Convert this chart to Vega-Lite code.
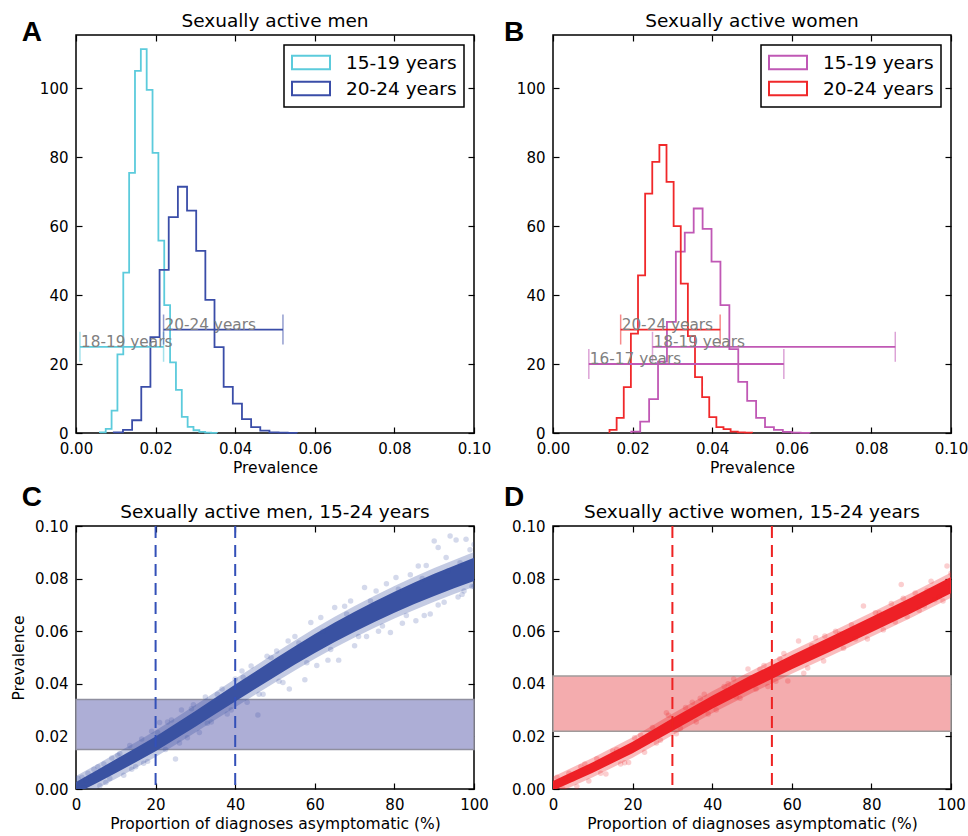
{
  "$schema": "https://vega.github.io/schema/vega-lite/v6.json",
  "background": "white",
  "padding": {"left": 10, "top": 11, "right": 5, "bottom": 0},
  "config": {
    "font": "DejaVu Sans",
    "view": {"stroke": "black", "strokeWidth": 1.5},
    "axis": {"grid": false, "domain": false, "labelFlush": false, "tickColor": "black", "tickSize": -6, "tickWidth": 1.2, "labelPadding": 14, "labelFont": "DejaVu Sans", "labelFontSize": 15, "labelColor": "black", "titleFont": "DejaVu Sans", "titleFontSize": 15.5, "titleFontWeight": "normal", "titleColor": "black", "titlePadding": 6},
    "axisX": {"labelPadding": 14, "titlePadding": 4},
    "title": {"font": "DejaVu Sans", "fontSize": 18.5, "fontWeight": "normal", "color": "black"},
    "legend": {"orient": "top-right", "offset": 10, "strokeColor": "black", "strokeWidth": 1.5, "fillColor": "white", "padding": 7, "rowPadding": 3, "labelFont": "DejaVu Sans", "labelFontSize": 18.5, "labelColor": "black", "labelOffset": 34, "symbolType": "M-1,-0.7H3V0.7H-1Z", "symbolSize": 361, "symbolStrokeWidth": 2, "symbolFillColor": "transparent", "title": null}
  },
  "columns": 2,
  "spacing": {"row": 6, "column": 11},
  "resolve": {"scale": {"color": "independent"}, "legend": {"color": "independent"}},
  "concat": [
    {
      "width": 398, "height": 398,
      "title": {"text": "Sexually active men", "offset": -12},
      "layer": [
        {
          "data": {"values": [
            {"s":"15-19 years","i":0,"x":0.006,"n":0},{"s":"15-19 years","i":1,"x":0.006,"n":0.2},{"s":"15-19 years","i":2,"x":0.00747,"n":1.2},{"s":"15-19 years","i":3,"x":0.00894,"n":6.5},{"s":"15-19 years","i":4,"x":0.01041,"n":22.8},{"s":"15-19 years","i":5,"x":0.01188,"n":46.5},{"s":"15-19 years","i":6,"x":0.01335,"n":75.4},{"s":"15-19 years","i":7,"x":0.01482,"n":105},{"s":"15-19 years","i":8,"x":0.01629,"n":111.3},{"s":"15-19 years","i":9,"x":0.01776,"n":99.5},{"s":"15-19 years","i":10,"x":0.01923,"n":81.2},{"s":"15-19 years","i":11,"x":0.0207,"n":55.8},{"s":"15-19 years","i":12,"x":0.02217,"n":37.1},{"s":"15-19 years","i":13,"x":0.02364,"n":20.5},{"s":"15-19 years","i":14,"x":0.02511,"n":12.5},{"s":"15-19 years","i":15,"x":0.02658,"n":4.7},{"s":"15-19 years","i":16,"x":0.02805,"n":1.8},{"s":"15-19 years","i":17,"x":0.02952,"n":0.8},{"s":"15-19 years","i":18,"x":0.03099,"n":0.3},{"s":"15-19 years","i":19,"x":0.03246,"n":0.1},{"s":"15-19 years","i":20,"x":0.03393,"n":0.05},{"s":"15-19 years","i":21,"x":0.0354,"n":0},
            {"s":"20-24 years","i":0,"x":0.0095,"n":0},{"s":"20-24 years","i":1,"x":0.0095,"n":0.2},{"s":"20-24 years","i":2,"x":0.0118,"n":0.9},{"s":"20-24 years","i":3,"x":0.0141,"n":3.7},{"s":"20-24 years","i":4,"x":0.0164,"n":13.4},{"s":"20-24 years","i":5,"x":0.0187,"n":27.8},{"s":"20-24 years","i":6,"x":0.021,"n":47.3},{"s":"20-24 years","i":7,"x":0.0233,"n":62.6},{"s":"20-24 years","i":8,"x":0.0256,"n":71.4},{"s":"20-24 years","i":9,"x":0.0279,"n":64.5},{"s":"20-24 years","i":10,"x":0.0302,"n":52.8},{"s":"20-24 years","i":11,"x":0.0325,"n":38.6},{"s":"20-24 years","i":12,"x":0.0348,"n":24.9},{"s":"20-24 years","i":13,"x":0.0371,"n":13.4},{"s":"20-24 years","i":14,"x":0.0394,"n":8.5},{"s":"20-24 years","i":15,"x":0.0417,"n":4.0},{"s":"20-24 years","i":16,"x":0.044,"n":1.7},{"s":"20-24 years","i":17,"x":0.0463,"n":0.7},{"s":"20-24 years","i":18,"x":0.0486,"n":0.2},{"s":"20-24 years","i":19,"x":0.0509,"n":0.1},{"s":"20-24 years","i":20,"x":0.0532,"n":0.05},{"s":"20-24 years","i":21,"x":0.0555,"n":0}
          ]},
          "mark": {"type": "line", "interpolate": "step-after", "strokeWidth": 1.8},
          "encoding": {
            "x": {"field": "x", "type": "quantitative", "scale": {"domain": [0, 0.1], "nice": false, "zero": false}, "axis": {"values": [0, 0.02, 0.04, 0.06, 0.08, 0.1], "format": ".2f", "title": "Prevalence"}},
            "y": {"field": "n", "type": "quantitative", "scale": {"domain": [0, 115.4], "nice": false}, "axis": {"values": [0, 20, 40, 60, 80, 100], "title": null}},
            "color": {"field": "s", "type": "nominal", "scale": {"domain": ["15-19 years", "20-24 years"], "range": ["#5ccbdc", "#3a4da8"]}},
            "order": {"field": "i", "type": "quantitative"}
          }
        },
        {
          "data": {"values": [{"label": "18-19 years", "lo": 0.001, "hi": 0.022, "y": 25}]},
          "mark": {"type": "errorbar", "color": "#5ccbdc", "ticks": {"size": 30, "thickness": 1.5, "opacity": 0.55}, "rule": {"strokeWidth": 1.8}},
          "encoding": {
            "x": {"field": "lo", "type": "quantitative", "axis": null},
            "x2": {"field": "hi"},
            "y": {"field": "y", "type": "quantitative", "axis": null}
          }
        },
        {
          "data": {"values": [{"label": "20-24 years", "lo": 0.022, "hi": 0.052, "y": 30}]},
          "mark": {"type": "errorbar", "color": "#3a4da8", "ticks": {"size": 30, "thickness": 1.5, "opacity": 0.55}, "rule": {"strokeWidth": 1.8}},
          "encoding": {
            "x": {"field": "lo", "type": "quantitative", "axis": null},
            "x2": {"field": "hi"},
            "y": {"field": "y", "type": "quantitative", "axis": null}
          }
        },
        {
          "data": {"values": [
            {"label": "18-19 years", "lo": 0.001, "y": 25},
            {"label": "20-24 years", "lo": 0.022, "y": 30}
          ]},
          "mark": {"type": "text", "align": "left", "baseline": "alphabetic", "dx": 1, "fontSize": 15.3, "color": "#808080"},
          "encoding": {
            "x": {"field": "lo", "type": "quantitative", "axis": {"orient": "top", "labels": false, "title": null, "values": [0, 0.02, 0.04, 0.06, 0.08, 0.1]}},
            "y": {"field": "y", "type": "quantitative", "axis": {"orient": "right", "labels": false, "title": null, "values": [0, 20, 40, 60, 80, 100]}},
            "text": {"field": "label"}
          }
        },
        {
          "data": {"values": [{"letter": "A", "lx": -0.0136, "ly": 113.7}]},
          "mark": {"type": "text", "font": "Liberation Sans", "fontWeight": "bold", "fontSize": 28, "align": "left", "baseline": "alphabetic", "color": "black"},
          "encoding": {
            "x": {"field": "lx", "type": "quantitative", "axis": null},
            "y": {"field": "ly", "type": "quantitative", "axis": null},
            "text": {"field": "letter"}
          }
        }
      ],
      "resolve": {"axis": {"x": "independent", "y": "independent"}}
    },
    {
      "width": 398, "height": 398,
      "title": {"text": "Sexually active women", "offset": -12},
      "layer": [
        {
          "data": {"values": [
            {"s":"15-19 years","i":0,"x":0.01967,"n":0},{"s":"15-19 years","i":1,"x":0.01967,"n":0.4},{"s":"15-19 years","i":2,"x":0.02191,"n":3.3},{"s":"15-19 years","i":3,"x":0.02415,"n":9.8},{"s":"15-19 years","i":4,"x":0.02639,"n":20.7},{"s":"15-19 years","i":5,"x":0.02863,"n":32.2},{"s":"15-19 years","i":6,"x":0.03087,"n":52.6},{"s":"15-19 years","i":7,"x":0.03311,"n":58.1},{"s":"15-19 years","i":8,"x":0.03535,"n":65.1},{"s":"15-19 years","i":9,"x":0.03759,"n":59.2},{"s":"15-19 years","i":10,"x":0.03983,"n":49.7},{"s":"15-19 years","i":11,"x":0.04207,"n":37.1},{"s":"15-19 years","i":12,"x":0.04431,"n":24.3},{"s":"15-19 years","i":13,"x":0.04655,"n":14.8},{"s":"15-19 years","i":14,"x":0.04879,"n":9.3},{"s":"15-19 years","i":15,"x":0.05103,"n":4.4},{"s":"15-19 years","i":16,"x":0.05327,"n":1.7},{"s":"15-19 years","i":17,"x":0.05551,"n":0.9},{"s":"15-19 years","i":18,"x":0.05775,"n":0.3},{"s":"15-19 years","i":19,"x":0.05999,"n":0.1},{"s":"15-19 years","i":20,"x":0.06223,"n":0.05},{"s":"15-19 years","i":21,"x":0.06447,"n":0},
            {"s":"20-24 years","i":0,"x":0.0142,"n":0},{"s":"20-24 years","i":1,"x":0.0142,"n":0.9},{"s":"20-24 years","i":2,"x":0.01599,"n":4.4},{"s":"20-24 years","i":3,"x":0.01778,"n":13.3},{"s":"20-24 years","i":4,"x":0.01957,"n":28.8},{"s":"20-24 years","i":5,"x":0.02136,"n":45.7},{"s":"20-24 years","i":6,"x":0.02315,"n":69.4},{"s":"20-24 years","i":7,"x":0.02494,"n":78.6},{"s":"20-24 years","i":8,"x":0.02673,"n":83.5},{"s":"20-24 years","i":9,"x":0.02852,"n":72.8},{"s":"20-24 years","i":10,"x":0.03031,"n":60.0},{"s":"20-24 years","i":11,"x":0.0321,"n":43.3},{"s":"20-24 years","i":12,"x":0.03389,"n":28.1},{"s":"20-24 years","i":13,"x":0.03568,"n":16.2},{"s":"20-24 years","i":14,"x":0.03747,"n":10.4},{"s":"20-24 years","i":15,"x":0.03926,"n":4.6},{"s":"20-24 years","i":16,"x":0.04105,"n":1.7},{"s":"20-24 years","i":17,"x":0.04284,"n":1.1},{"s":"20-24 years","i":18,"x":0.04463,"n":0.4},{"s":"20-24 years","i":19,"x":0.04642,"n":0.2},{"s":"20-24 years","i":20,"x":0.04821,"n":0.1},{"s":"20-24 years","i":21,"x":0.05,"n":0}
          ]},
          "mark": {"type": "line", "interpolate": "step-after", "strokeWidth": 1.8},
          "encoding": {
            "x": {"field": "x", "type": "quantitative", "scale": {"domain": [0, 0.1], "nice": false, "zero": false}, "axis": {"values": [0, 0.02, 0.04, 0.06, 0.08, 0.1], "format": ".2f", "title": "Prevalence"}},
            "y": {"field": "n", "type": "quantitative", "scale": {"domain": [0, 115.4], "nice": false}, "axis": {"values": [0, 20, 40, 60, 80, 100], "title": null}},
            "color": {"field": "s", "type": "nominal", "scale": {"domain": ["15-19 years", "20-24 years"], "range": ["#c058b5", "#f0282a"]}},
            "order": {"field": "i", "type": "quantitative"}
          }
        },
        {
          "data": {"values": [{"label": "20-24 years", "lo": 0.017, "hi": 0.042, "y": 30}]},
          "mark": {"type": "errorbar", "color": "#f0282a", "ticks": {"size": 30, "thickness": 1.5, "opacity": 0.55}, "rule": {"strokeWidth": 1.8}},
          "encoding": {
            "x": {"field": "lo", "type": "quantitative", "axis": null},
            "x2": {"field": "hi"},
            "y": {"field": "y", "type": "quantitative", "axis": null}
          }
        },
        {
          "data": {"values": [
            {"label": "18-19 years", "lo": 0.025, "hi": 0.086, "y": 25},
            {"label": "16-17 years", "lo": 0.009, "hi": 0.058, "y": 20}
          ]},
          "mark": {"type": "errorbar", "color": "#c058b5", "ticks": {"size": 30, "thickness": 1.5, "opacity": 0.55}, "rule": {"strokeWidth": 1.8}},
          "encoding": {
            "x": {"field": "lo", "type": "quantitative", "axis": null},
            "x2": {"field": "hi"},
            "y": {"field": "y", "type": "quantitative", "axis": null}
          }
        },
        {
          "data": {"values": [
            {"label": "20-24 years", "lo": 0.017, "y": 30},
            {"label": "18-19 years", "lo": 0.025, "y": 25},
            {"label": "16-17 years", "lo": 0.009, "y": 20}
          ]},
          "mark": {"type": "text", "align": "left", "baseline": "alphabetic", "dx": 1, "fontSize": 15.3, "color": "#808080"},
          "encoding": {
            "x": {"field": "lo", "type": "quantitative", "axis": {"orient": "top", "labels": false, "title": null, "values": [0, 0.02, 0.04, 0.06, 0.08, 0.1]}},
            "y": {"field": "y", "type": "quantitative", "axis": {"orient": "right", "labels": false, "title": null, "values": [0, 20, 40, 60, 80, 100]}},
            "text": {"field": "label"}
          }
        },
        {
          "data": {"values": [{"letter": "B", "lx": -0.0123, "ly": 113.7}]},
          "mark": {"type": "text", "font": "Liberation Sans", "fontWeight": "bold", "fontSize": 28, "align": "left", "baseline": "alphabetic", "color": "black"},
          "encoding": {
            "x": {"field": "lx", "type": "quantitative", "axis": null},
            "y": {"field": "ly", "type": "quantitative", "axis": null},
            "text": {"field": "letter"}
          }
        }
      ],
      "resolve": {"axis": {"x": "independent", "y": "independent"}}
    },
    {
      "width": 398, "height": 263,
      "title": {"text": "Sexually active men, 15-24 years", "offset": -37},
      "layer": [
        {
          "data": {"values": [{"lo": 0.015, "hi": 0.034}]},
          "mark": {"type": "rect", "fill": "#adaed6", "stroke": "#8f8f9f", "strokeWidth": 1.5},
          "encoding": {
            "y": {"field": "lo", "type": "quantitative", "scale": {"domain": [0, 0.1], "nice": false}, "axis": null},
            "y2": {"field": "hi"}
          }
        },
        {
          "data": {"name": "bandC", "values": [
            {"x":0,"lo":-0.0017,"hi":0.0027,"flo":-0.0039,"fhi":0.0049},
            {"x":5,"lo":0.0021,"hi":0.0069,"flo":-0.0001,"fhi":0.0091},
            {"x":10,"lo":0.0061,"hi":0.0113,"flo":0.0039,"fhi":0.0135},
            {"x":15,"lo":0.0102,"hi":0.0156,"flo":0.008,"fhi":0.0178},
            {"x":20,"lo":0.0144,"hi":0.02,"flo":0.0122,"fhi":0.0222},
            {"x":25,"lo":0.019,"hi":0.0248,"flo":0.0168,"fhi":0.027},
            {"x":30,"lo":0.0237,"hi":0.0297,"flo":0.0215,"fhi":0.0319},
            {"x":35,"lo":0.0285,"hi":0.0347,"flo":0.0263,"fhi":0.0369},
            {"x":40,"lo":0.0333,"hi":0.0397,"flo":0.0311,"fhi":0.0419},
            {"x":45,"lo":0.038,"hi":0.0446,"flo":0.0358,"fhi":0.0468},
            {"x":50,"lo":0.0427,"hi":0.0495,"flo":0.0405,"fhi":0.0517},
            {"x":55,"lo":0.0473,"hi":0.0543,"flo":0.0451,"fhi":0.0565},
            {"x":60,"lo":0.0517,"hi":0.0589,"flo":0.0495,"fhi":0.0611},
            {"x":65,"lo":0.0559,"hi":0.0633,"flo":0.0537,"fhi":0.0655},
            {"x":70,"lo":0.0598,"hi":0.0674,"flo":0.0576,"fhi":0.0696},
            {"x":75,"lo":0.0635,"hi":0.0713,"flo":0.0613,"fhi":0.0735},
            {"x":80,"lo":0.067,"hi":0.075,"flo":0.0648,"fhi":0.0772},
            {"x":85,"lo":0.0703,"hi":0.0785,"flo":0.0681,"fhi":0.0807},
            {"x":90,"lo":0.0734,"hi":0.0818,"flo":0.0712,"fhi":0.084},
            {"x":95,"lo":0.0763,"hi":0.0849,"flo":0.0741,"fhi":0.0871},
            {"x":100,"lo":0.0791,"hi":0.0879,"flo":0.0769,"fhi":0.0901}
          ]},
          "mark": {"type": "area", "color": "#3a52a2", "opacity": 0.3, "clip": true},
          "encoding": {
            "x": {"field": "x", "type": "quantitative", "scale": {"domain": [0, 100], "nice": false}, "axis": {"orient": "top", "labels": false, "title": null, "values": [0, 20, 40, 60, 80, 100]}},
            "y": {"field": "flo", "type": "quantitative", "axis": {"orient": "right", "labels": false, "title": null, "values": [0, 0.02, 0.04, 0.06, 0.08, 0.1]}},
            "y2": {"field": "fhi"}
          }
        },
        {
          "data": {"name": "bandC"},
          "mark": {"type": "area", "color": "#3a52a2", "opacity": 1, "clip": true, "strokeWidth": 0},
          "encoding": {
            "x": {"field": "x", "type": "quantitative", "axis": null},
            "y": {"field": "lo", "type": "quantitative", "axis": null},
            "y2": {"field": "hi"}
          }
        },
        {
          "data": {"values": [
            {"x":0.5,"y":0.004},{"x":1.5,"y":0.0045},{"x":2,"y":0.0005},{"x":3,"y":0.006},{"x":4.5,"y":0.0075},{"x":6,"y":0.0012},{"x":7,"y":0.0095},{"x":8.5,"y":0.004},{"x":9,"y":0.0118},{"x":11,"y":0.0135},{"x":12,"y":0.0052},{"x":13.5,"y":0.0165},{"x":15,"y":0.0085},{"x":16.5,"y":0.019},{"x":18,"y":0.0105},{"x":19,"y":0.022},{"x":21,"y":0.0253},{"x":22.5,"y":0.015},{"x":24,"y":0.0262},{"x":25,"y":0.0114},{"x":26.5,"y":0.03},{"x":28,"y":0.0195},{"x":29.5,"y":0.032},{"x":31,"y":0.0215},{"x":32.5,"y":0.035},{"x":34,"y":0.0255},{"x":36.7,"y":0.038},{"x":38,"y":0.0285},{"x":40,"y":0.0418},{"x":41.7,"y":0.0449},{"x":43,"y":0.033},{"x":44,"y":0.0468},{"x":45.7,"y":0.0281},{"x":47,"y":0.036},{"x":48,"y":0.0505},{"x":50.4,"y":0.0525},{"x":52,"y":0.0405},{"x":53.3,"y":0.0563},{"x":53.6,"y":0.038},{"x":55,"y":0.058},{"x":57.5,"y":0.0415},{"x":59,"y":0.0633},{"x":60.5,"y":0.047},{"x":61.5,"y":0.0652},{"x":63.3,"y":0.049},{"x":65,"y":0.069},{"x":66,"y":0.049},{"x":67.5,"y":0.0695},{"x":69,"y":0.0715},{"x":70,"y":0.0545},{"x":72.5,"y":0.0766},{"x":73,"y":0.058},{"x":75.4,"y":0.0753},{"x":76,"y":0.06},{"x":78,"y":0.078},{"x":79,"y":0.0595},{"x":80.4,"y":0.0804},{"x":82,"y":0.063},{"x":84,"y":0.0815},{"x":85.4,"y":0.064},{"x":86,"y":0.0848},{"x":87.5,"y":0.066},{"x":88,"y":0.085},{"x":89,"y":0.0665},{"x":90,"y":0.0943},{"x":91,"y":0.0918},{"x":92.5,"y":0.071},{"x":93,"y":0.088},{"x":94,"y":0.0962},{"x":95.5,"y":0.0947},{"x":96,"y":0.073},{"x":97.5,"y":0.0753},{"x":98,"y":0.095},{"x":99,"y":0.091},{"x":99.5,"y":0.077},{"x":100,"y":0.093},
            {"x":2.5,"y":0.0035},{"x":5.5,"y":0.0085},{"x":7.5,"y":0.0025},{"x":10.5,"y":0.0128},{"x":14,"y":0.0075},{"x":17,"y":0.0098},{"x":20.5,"y":0.0215},{"x":23,"y":0.0255},{"x":26,"y":0.0175},{"x":29,"y":0.0305},{"x":33,"y":0.025},{"x":35.5,"y":0.036},{"x":39,"y":0.03},{"x":42,"y":0.0425},{"x":46,"y":0.036},{"x":49,"y":0.05},{"x":51,"y":0.041},{"x":56,"y":0.0555},{"x":58,"y":0.048},{"x":62,"y":0.06},{"x":64,"y":0.053},{"x":68,"y":0.0665},{"x":71,"y":0.058},{"x":74,"y":0.0715},{"x":77,"y":0.062},{"x":81,"y":0.076},{"x":83,"y":0.066},{"x":87,"y":0.08},{"x":91,"y":0.07},{"x":93.5,"y":0.083},{"x":96.5,"y":0.086},{"x":97,"y":0.074},{"x":100,"y":0.077}
          ]},
          "mark": {"type": "point", "filled": true, "shape": "circle", "size": 30, "color": "#3a52a2", "opacity": 0.22, "clip": true},
          "encoding": {
            "x": {"field": "x", "type": "quantitative", "axis": {"values": [0, 20, 40, 60, 80, 100], "title": "Proportion of diagnoses asymptomatic (%)"}},
            "y": {"field": "y", "type": "quantitative", "axis": {"values": [0, 0.02, 0.04, 0.06, 0.08, 0.1], "format": ".2f", "title": "Prevalence", "titlePadding": 8}}
          }
        },
        {
          "data": {"values": [{"x": 20}, {"x": 40}]},
          "mark": {"type": "rule", "color": "#3350b8", "strokeWidth": 2, "strokeDash": [12, 7]},
          "encoding": {"x": {"field": "x", "type": "quantitative", "axis": null}}
        },
        {
          "data": {"values": [{"letter": "C", "lx": -13.6, "ly": 0.1076}]},
          "mark": {"type": "text", "font": "Liberation Sans", "fontWeight": "bold", "fontSize": 28, "align": "left", "baseline": "alphabetic", "color": "black"},
          "encoding": {
            "x": {"field": "lx", "type": "quantitative", "axis": null},
            "y": {"field": "ly", "type": "quantitative", "axis": null},
            "text": {"field": "letter"}
          }
        }
      ],
      "resolve": {"axis": {"x": "independent", "y": "independent"}}
    },
    {
      "width": 398, "height": 263,
      "title": {"text": "Sexually active women, 15-24 years", "offset": -37},
      "layer": [
        {
          "data": {"values": [{"lo": 0.022, "hi": 0.043}]},
          "mark": {"type": "rect", "fill": "#f4acae", "stroke": "#a09a9a", "strokeWidth": 1.5},
          "encoding": {
            "y": {"field": "lo", "type": "quantitative", "scale": {"domain": [0, 0.1], "nice": false}, "axis": null},
            "y2": {"field": "hi"}
          }
        },
        {
          "data": {"name": "bandD", "values": [
            {"x":0,"lo":-0.0006,"hi":0.003,"flo":-0.0023,"fhi":0.0047},
            {"x":10,"lo":0.0062,"hi":0.0102,"flo":0.0045,"fhi":0.0119},
            {"x":20,"lo":0.0136,"hi":0.018,"flo":0.0119,"fhi":0.0197},
            {"x":30,"lo":0.0221,"hi":0.0269,"flo":0.0204,"fhi":0.0286},
            {"x":40,"lo":0.0305,"hi":0.0355,"flo":0.0288,"fhi":0.0372},
            {"x":50,"lo":0.0382,"hi":0.0434,"flo":0.0365,"fhi":0.0451},
            {"x":60,"lo":0.0455,"hi":0.0509,"flo":0.0438,"fhi":0.0526},
            {"x":70,"lo":0.0525,"hi":0.0581,"flo":0.0508,"fhi":0.0598},
            {"x":80,"lo":0.0596,"hi":0.0654,"flo":0.0579,"fhi":0.0671},
            {"x":90,"lo":0.0668,"hi":0.0728,"flo":0.0651,"fhi":0.0745},
            {"x":100,"lo":0.0744,"hi":0.0806,"flo":0.0727,"fhi":0.0823}
          ]},
          "mark": {"type": "area", "color": "#ee2026", "opacity": 0.3, "clip": true},
          "encoding": {
            "x": {"field": "x", "type": "quantitative", "scale": {"domain": [0, 100], "nice": false}, "axis": {"orient": "top", "labels": false, "title": null, "values": [0, 20, 40, 60, 80, 100]}},
            "y": {"field": "flo", "type": "quantitative", "axis": {"orient": "right", "labels": false, "title": null, "values": [0, 0.02, 0.04, 0.06, 0.08, 0.1]}},
            "y2": {"field": "fhi"}
          }
        },
        {
          "data": {"name": "bandD"},
          "mark": {"type": "area", "color": "#ee2026", "opacity": 1, "clip": true, "strokeWidth": 0},
          "encoding": {
            "x": {"field": "x", "type": "quantitative", "axis": null},
            "y": {"field": "lo", "type": "quantitative", "axis": null},
            "y2": {"field": "hi"}
          }
        },
        {
          "data": {"values": [
            {"x":1,"y":0.0045},{"x":2.5,"y":0.0},{"x":4,"y":0.006},{"x":5,"y":0.0038},{"x":7,"y":0.0085},{"x":9,"y":0.003},{"x":11,"y":0.0115},{"x":13.3,"y":0.0057},{"x":15,"y":0.0145},{"x":17,"y":0.0095},{"x":19,"y":0.0101},{"x":20.5,"y":0.0195},{"x":23,"y":0.014},{"x":25,"y":0.0234},{"x":27,"y":0.0185},{"x":28.5,"y":0.029},{"x":31,"y":0.021},{"x":33.3,"y":0.031},{"x":35,"y":0.033},{"x":36,"y":0.0255},{"x":38,"y":0.036},{"x":41,"y":0.03},{"x":43,"y":0.039},{"x":45.4,"y":0.0418},{"x":47,"y":0.0345},{"x":49,"y":0.0456},{"x":51,"y":0.038},{"x":53,"y":0.047},{"x":56,"y":0.041},{"x":58,"y":0.0515},{"x":59,"y":0.0411},{"x":61.7,"y":0.0563},{"x":64,"y":0.046},{"x":66,"y":0.0575},{"x":68,"y":0.0487},{"x":68.3,"y":0.0582},{"x":71,"y":0.06},{"x":73,"y":0.0535},{"x":75,"y":0.0625},{"x":78,"y":0.0696},{"x":79,"y":0.057},{"x":81,"y":0.067},{"x":83,"y":0.0605},{"x":85,"y":0.0705},{"x":87.5,"y":0.0778},{"x":89,"y":0.0655},{"x":91,"y":0.0745},{"x":93.3,"y":0.0696},{"x":95,"y":0.079},{"x":97,"y":0.073},{"x":98,"y":0.0715},{"x":99,"y":0.0848},{"x":100,"y":0.077},
            {"x":3,"y":0.004},{"x":6,"y":0.001},{"x":8,"y":0.0095},{"x":12,"y":0.006},{"x":16,"y":0.015},{"x":18,"y":0.01},{"x":22,"y":0.0205},{"x":26,"y":0.0175},{"x":29,"y":0.028},{"x":32,"y":0.023},{"x":37,"y":0.0345},{"x":39,"y":0.0285},{"x":44,"y":0.04},{"x":46,"y":0.035},{"x":52,"y":0.0455},{"x":54,"y":0.039},{"x":57,"y":0.0495},{"x":63,"y":0.044},{"x":65,"y":0.0545},{"x":72,"y":0.059},{"x":76,"y":0.057},{"x":82,"y":0.067},{"x":86,"y":0.0635},{"x":88,"y":0.0725},{"x":92,"y":0.068},{"x":94,"y":0.0755},{"x":96,"y":0.072},{"x":100,"y":0.082}
          ]},
          "mark": {"type": "point", "filled": true, "shape": "circle", "size": 30, "color": "#ee2026", "opacity": 0.22, "clip": true},
          "encoding": {
            "x": {"field": "x", "type": "quantitative", "axis": {"values": [0, 20, 40, 60, 80, 100], "title": "Proportion of diagnoses asymptomatic (%)"}},
            "y": {"field": "y", "type": "quantitative", "axis": {"values": [0, 0.02, 0.04, 0.06, 0.08, 0.1], "format": ".2f", "title": null}}
          }
        },
        {
          "data": {"values": [{"x": 30}, {"x": 55}]},
          "mark": {"type": "rule", "color": "#ee2222", "strokeWidth": 2, "strokeDash": [12, 7]},
          "encoding": {"x": {"field": "x", "type": "quantitative", "axis": null}}
        },
        {
          "data": {"values": [{"letter": "D", "lx": -12.3, "ly": 0.1076}]},
          "mark": {"type": "text", "font": "Liberation Sans", "fontWeight": "bold", "fontSize": 28, "align": "left", "baseline": "alphabetic", "color": "black"},
          "encoding": {
            "x": {"field": "lx", "type": "quantitative", "axis": null},
            "y": {"field": "ly", "type": "quantitative", "axis": null},
            "text": {"field": "letter"}
          }
        }
      ],
      "resolve": {"axis": {"x": "independent", "y": "independent"}}
    }
  ]
}
